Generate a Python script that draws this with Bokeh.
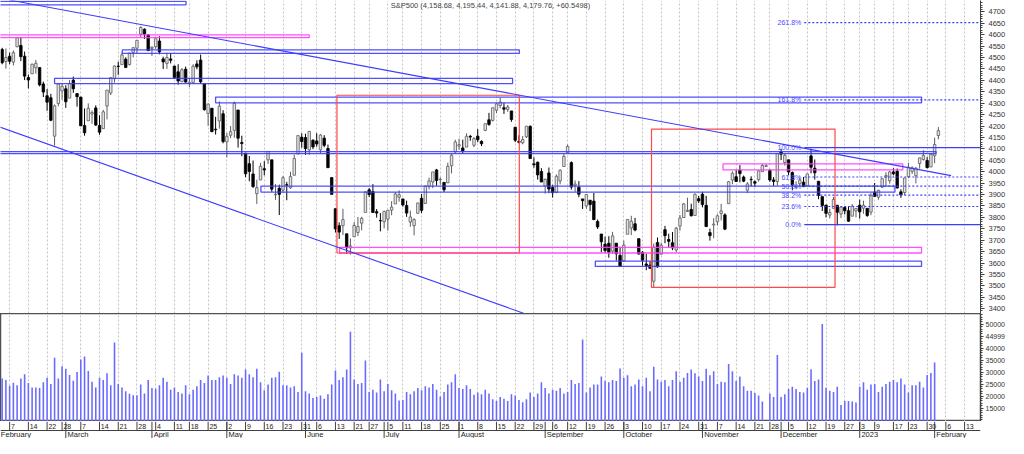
import numpy as np
import pandas as pd
from bokeh.plotting import figure
from bokeh.models import Range1d, FixedTicker, ColumnDataSource, Label, Span
from bokeh.layouts import column
from bokeh.embed import file_html
from bokeh.resources import INLINE
from bokeh.core.properties import value

FONT = "Liberation Sans"
TITLE = "S&P500 (4,158.68, 4,195.44, 4,141.88, 4,179.76, +60.5498)"

# ---------------- calendar ----------------
HOLIDAYS = ["2022-02-21", "2022-04-15", "2022-05-30", "2022-06-20", "2022-07-04",
            "2022-09-05", "2022-11-24", "2022-12-26", "2023-01-02", "2023-01-16"]
CAL_START, CAL_END = "2022-02-01", "2023-02-17"
INDEX_ZERO = "2022-02-07"     # first labelled week
FIRST_BAR = "2022-02-03"

# ---------------- daily OHLC (Feb 3 2022 .. Feb 2 2023) ----------------
open_ = [4535.41, 4482.79, 4505.75, 4480.02, 4547.00, 4553.24, 4506.27, 4412.61, 4429.28, 4455.75,
         4456.06, 4384.57, 4332.74, 4324.01, 4155.77, 4298.38, 4354.17, 4363.14, 4322.56, 4401.31,
         4342.12, 4327.01, 4202.66, 4223.10, 4252.55, 4279.50, 4202.75, 4188.82, 4288.14, 4345.11,
         4407.34, 4462.40, 4469.10, 4493.10, 4469.98, 4522.66, 4541.09, 4602.86, 4624.20, 4599.02,
         4540.32, 4547.97, 4572.45, 4494.17, 4474.65, 4494.15, 4462.64, 4437.59, 4394.30, 4449.12,
         4385.63, 4390.63, 4472.26, 4489.17, 4385.83, 4255.34, 4278.14, 4186.52, 4222.58, 4253.75,
         4130.61, 4159.78, 4181.18, 4270.43, 4128.17, 4081.27, 4035.18, 3990.08, 3903.95, 3963.90,
         4013.02, 4052.00, 4051.98, 3899.00, 3927.76, 3919.42, 3942.94, 3929.59, 3984.60, 4077.43,
         4151.09, 4149.78, 4095.41, 4137.57, 4134.72, 4096.47, 4147.12, 4101.65, 3974.39, 3838.15,
         3763.52, 3764.05, 3728.18, 3665.90, 3715.31, 3733.89, 3774.71, 3821.75, 3920.76, 3913.00,
         3825.09, 3785.99, 3781.00, 3792.61, 3831.98, 3858.85, 3888.26, 3880.94, 3851.95, 3779.67,
         3763.99, 3818.00, 3883.79, 3860.73, 3935.32, 3955.47, 4007.92, 3965.72, 3953.22, 3951.43,
         4026.13, 4087.33, 4112.38, 4104.21, 4107.96, 4154.85, 4115.87, 4155.93, 4133.11, 4181.02,
         4227.40, 4225.02, 4269.37, 4290.46, 4280.40, 4273.13, 4266.31, 4195.08, 4133.09, 4126.55,
         4153.26, 4198.74, 4034.58, 4041.25, 4000.67, 3936.73, 3994.66, 3930.89, 3909.43, 3959.94,
         4022.94, 4083.67, 4040.00, 3940.73, 3932.41, 3880.95, 3849.91, 3875.23, 3871.40, 3782.36,
         3727.14, 3682.72, 3686.44, 3651.94, 3687.01, 3633.48, 3609.78, 3726.46, 3753.25, 3771.97,
         3706.74, 3647.51, 3595.86, 3590.83, 3520.37, 3690.41, 3638.65, 3746.26, 3703.11, 3689.05,
         3657.10, 3762.01, 3799.44, 3825.97, 3834.69, 3808.26, 3881.85, 3901.79, 3852.90, 3733.25,
         3766.98, 3780.71, 3817.02, 3810.94, 3859.89, 3963.72, 3977.97, 4006.41, 3976.82, 3919.26,
         3966.39, 3956.23, 3965.51, 4000.30, 4023.34, 4005.36, 3964.19, 3957.18, 4087.14, 4040.17,
         4052.02, 3996.63, 3933.28, 3947.79, 3954.17, 3939.29, 4069.38, 4015.54, 3958.37, 3890.91,
         3853.79, 3810.47, 3839.49, 3853.26, 3815.11, 3843.34, 3829.56, 3805.45, 3829.06, 3853.29,
         3840.36, 3839.74, 3823.37, 3910.82, 3888.57, 3932.35, 3976.77, 3960.60, 3999.28, 4002.25,
         3911.84, 3909.04, 3978.14, 4001.74, 3982.71, 4036.08, 4053.72, 4049.27, 4020.85, 4070.07,
         4158.68]
high = [4542.88, 4539.66, 4521.86, 4531.32, 4590.03, 4588.92, 4526.33, 4426.22, 4472.77, 4489.55,
        4456.06, 4394.60, 4362.12, 4341.51, 4294.73, 4385.34, 4388.84, 4378.45, 4401.48, 4416.78,
        4342.12, 4327.01, 4276.94, 4299.40, 4268.28, 4291.01, 4247.57, 4271.05, 4357.86, 4412.67,
        4465.40, 4481.75, 4522.00, 4501.07, 4520.58, 4546.03, 4575.65, 4637.30, 4627.77, 4603.07,
        4548.70, 4583.50, 4593.45, 4503.94, 4521.16, 4520.41, 4464.35, 4471.00, 4453.92, 4460.46,
        4410.31, 4471.03, 4488.29, 4512.94, 4385.83, 4299.02, 4278.14, 4240.71, 4308.45, 4269.68,
        4169.81, 4200.10, 4307.66, 4270.43, 4157.69, 4081.27, 4068.82, 4049.09, 3964.80, 4038.88,
        4046.46, 4090.72, 4051.98, 3945.96, 3943.42, 3981.88, 3955.68, 3999.33, 4075.14, 4158.49,
        4168.34, 4166.54, 4177.51, 4142.67, 4168.78, 4164.86, 4160.14, 4119.10, 3974.39, 3838.15,
        3778.18, 3837.56, 3728.18, 3707.71, 3779.65, 3801.79, 3802.58, 3913.65, 3927.72, 3945.86,
        3836.50, 3818.99, 3829.82, 3832.19, 3870.91, 3910.63, 3918.50, 3880.94, 3873.41, 3829.44,
        3796.41, 3863.62, 3902.44, 3939.81, 3974.13, 3999.29, 4012.44, 3975.30, 3953.22, 4039.56,
        4078.95, 4140.15, 4144.95, 4140.47, 4167.66, 4161.29, 4151.58, 4186.62, 4137.30, 4211.03,
        4257.91, 4280.47, 4301.79, 4325.28, 4302.18, 4292.53, 4266.31, 4195.08, 4159.77, 4156.56,
        4200.54, 4203.04, 4062.99, 4044.98, 4015.37, 3970.23, 4018.43, 3942.55, 3987.89, 4010.50,
        4076.81, 4119.28, 4045.00, 3961.94, 3959.14, 3880.95, 3900.45, 3876.01, 3907.07, 3790.68,
        3727.14, 3715.67, 3717.53, 3736.74, 3687.01, 3671.44, 3698.35, 3791.92, 3806.91, 3797.93,
        3706.74, 3652.17, 3640.66, 3608.34, 3685.41, 3712.00, 3689.73, 3762.79, 3728.58, 3736.00,
        3757.89, 3810.74, 3862.85, 3886.15, 3859.95, 3905.42, 3893.73, 3911.79, 3894.44, 3750.59,
        3796.34, 3813.95, 3859.40, 3818.20, 3958.33, 4001.48, 4008.97, 4028.84, 3983.09, 3954.33,
        3979.89, 3962.00, 4005.88, 4033.78, 4034.02, 4012.27, 3976.77, 4080.11, 4100.51, 4080.48,
        4052.45, 4001.51, 3957.57, 3974.19, 3977.02, 3990.71, 4100.96, 4053.76, 3958.37, 3890.91,
        3854.86, 3838.24, 3889.82, 3853.26, 3845.80, 3846.65, 3848.32, 3858.19, 3839.85, 3878.46,
        3873.16, 3839.74, 3906.19, 3950.57, 3919.83, 3970.07, 3997.76, 4003.95, 4015.39, 4014.16,
        3922.94, 3972.96, 4039.31, 4023.92, 4019.55, 4061.57, 4094.21, 4063.85, 4077.16, 4148.95,
        4195.44]
low = [4470.39, 4451.50, 4471.47, 4465.40, 4547.00, 4484.31, 4401.41, 4364.84, 4429.28, 4429.68,
       4373.81, 4327.22, 4267.11, 4221.51, 4114.65, 4286.83, 4315.12, 4279.54, 4322.56, 4345.56,
       4284.98, 4199.85, 4157.87, 4223.10, 4209.80, 4200.49, 4161.72, 4187.90, 4229.34, 4335.65,
       4390.57, 4424.30, 4469.10, 4455.81, 4465.17, 4501.07, 4517.69, 4589.66, 4581.32, 4530.41,
       4507.57, 4539.21, 4514.17, 4450.04, 4450.30, 4474.60, 4408.38, 4381.34, 4392.70, 4390.77,
       4370.30, 4390.63, 4448.76, 4384.47, 4267.62, 4200.82, 4175.04, 4162.90, 4188.63, 4124.28,
       4062.51, 4147.08, 4148.91, 4106.01, 4067.91, 3975.48, 3958.17, 3928.82, 3858.87, 3963.90,
       3983.99, 4033.93, 3911.91, 3876.58, 3810.32, 3909.04, 3875.13, 3925.03, 3984.60, 4077.43,
       4104.88, 4073.85, 4074.37, 4098.67, 4109.18, 4080.19, 4107.20, 4017.17, 3900.16, 3734.30,
       3705.68, 3722.30, 3639.77, 3636.87, 3715.31, 3717.69, 3743.52, 3821.75, 3889.66, 3820.14,
       3799.02, 3738.67, 3752.10, 3742.06, 3809.37, 3858.85, 3869.34, 3847.22, 3802.36, 3759.07,
       3721.56, 3817.18, 3818.63, 3860.73, 3922.03, 3927.64, 3938.85, 3943.46, 3910.74, 3951.43,
       3992.97, 4079.22, 4096.02, 4079.81, 4107.96, 4135.42, 4107.31, 4128.97, 4112.09, 4177.26,
       4201.41, 4219.78, 4256.90, 4277.77, 4253.08, 4261.98, 4218.70, 4129.86, 4124.03, 4119.97,
       4147.59, 4057.66, 4017.42, 3965.21, 3954.53, 3903.65, 3906.21, 3886.75, 3906.03, 3944.81,
       4022.94, 4083.67, 3921.73, 3912.56, 3888.28, 3837.08, 3838.50, 3827.54, 3789.49, 3749.14,
       3647.47, 3644.76, 3623.29, 3640.61, 3610.40, 3584.13, 3604.93, 3726.46, 3722.66, 3739.22,
       3636.79, 3588.10, 3568.45, 3573.86, 3491.58, 3579.68, 3638.65, 3686.53, 3666.51, 3656.44,
       3647.42, 3741.65, 3799.44, 3824.07, 3803.79, 3808.26, 3863.18, 3843.80, 3758.68, 3698.15,
       3708.84, 3764.70, 3786.28, 3744.22, 3859.89, 3944.82, 3956.40, 3953.17, 3954.34, 3906.54,
       3935.98, 3933.34, 3956.88, 3998.66, 4020.76, 3955.77, 3937.65, 3938.58, 4050.87, 4026.63,
       3984.49, 3918.39, 3922.68, 3935.83, 3933.04, 3935.30, 3993.03, 3965.65, 3879.45, 3827.91,
       3800.04, 3795.62, 3839.49, 3764.49, 3797.01, 3813.22, 3780.78, 3805.45, 3800.34, 3794.33,
       3815.77, 3802.42, 3809.56, 3890.42, 3877.29, 3928.54, 3937.56, 3947.67, 3984.57, 3926.59,
       3885.54, 3897.86, 3971.64, 3989.79, 3949.06, 4013.29, 4048.70, 4015.55, 4020.44, 4037.20,
       4141.88]
close = [4477.44, 4500.53, 4483.87, 4521.54, 4587.18, 4504.08, 4418.64, 4401.67, 4471.07, 4475.01,
         4380.26, 4348.87, 4304.76, 4225.50, 4288.70, 4384.65, 4373.94, 4306.26, 4386.54, 4363.49,
         4328.87, 4201.09, 4170.70, 4277.88, 4259.52, 4204.31, 4173.11, 4262.45, 4357.86, 4411.67,
         4463.12, 4461.18, 4511.61, 4456.24, 4520.16, 4543.06, 4575.52, 4631.60, 4602.45, 4530.41,
         4545.86, 4582.64, 4525.12, 4481.15, 4500.21, 4488.28, 4412.53, 4397.45, 4446.59, 4392.59,
         4391.69, 4462.21, 4459.45, 4393.66, 4271.78, 4296.12, 4175.20, 4183.96, 4287.50, 4131.93,
         4155.38, 4175.48, 4300.17, 4146.87, 4123.34, 3991.24, 4001.05, 3935.18, 3930.08, 4023.89,
         4008.01, 4088.85, 3923.68, 3900.79, 3901.36, 3973.75, 3941.48, 3978.73, 4057.84, 4158.24,
         4132.15, 4101.23, 4176.82, 4108.54, 4121.43, 4160.68, 4115.77, 4017.82, 3900.86, 3749.63,
         3735.48, 3789.99, 3666.77, 3674.84, 3764.79, 3759.89, 3795.73, 3911.74, 3900.11, 3821.55,
         3818.83, 3785.38, 3825.33, 3831.39, 3845.08, 3902.62, 3899.38, 3854.43, 3818.80, 3801.78,
         3790.38, 3863.16, 3830.85, 3936.69, 3959.90, 3998.95, 3961.63, 3966.84, 3921.05, 4023.61,
         4072.43, 4130.29, 4118.63, 4091.19, 4155.17, 4151.94, 4145.19, 4140.06, 4122.47, 4210.24,
         4207.27, 4280.15, 4297.14, 4305.20, 4274.04, 4283.74, 4228.48, 4137.99, 4128.73, 4140.77,
         4199.12, 4057.66, 4030.61, 3986.16, 3955.00, 3966.85, 3924.26, 3908.19, 3979.87, 4006.18,
         4067.36, 4110.41, 3932.69, 3946.01, 3901.35, 3873.33, 3899.89, 3855.93, 3789.93, 3757.99,
         3693.23, 3655.04, 3647.29, 3719.04, 3640.47, 3585.62, 3678.43, 3790.93, 3783.28, 3744.52,
         3639.66, 3612.39, 3588.84, 3577.03, 3669.91, 3583.07, 3677.95, 3719.98, 3695.16, 3665.78,
         3752.75, 3797.34, 3859.11, 3830.60, 3807.30, 3901.06, 3871.98, 3856.10, 3759.69, 3719.89,
         3770.55, 3806.80, 3828.11, 3748.57, 3956.37, 3992.93, 3957.25, 3991.73, 3958.79, 3946.56,
         3965.34, 3949.94, 4003.58, 4027.26, 4026.12, 3963.94, 3957.63, 4080.11, 4076.57, 4071.70,
         3998.84, 3941.26, 3933.92, 3963.51, 3934.38, 3990.56, 4019.65, 3995.32, 3895.75, 3852.36,
         3817.66, 3821.62, 3878.44, 3822.39, 3844.82, 3829.25, 3783.22, 3849.28, 3839.50, 3824.14,
         3852.97, 3808.10, 3895.08, 3892.09, 3919.25, 3969.61, 3983.17, 3999.09, 3990.97, 3928.86,
         3898.85, 3972.61, 4019.81, 4016.95, 4016.22, 4060.43, 4070.56, 4017.77, 4076.60, 4119.21,
         4179.76]
volume = [27370, 26690, 24270, 25600, 24550, 27370, 29100, 25480, 23600, 23600, 23340,
          25750, 27620, 25080, 35970, 27370, 32460, 31400, 28830, 26420, 30040, 35290,
          36500, 30440, 26020, 23600, 27620, 26690, 29520, 24550, 42420, 25080, 23600,
          21980, 20910, 20370, 20370, 24820, 21050, 26690, 23340, 23060, 24550, 27620,
          26020, 22660, 23600, 21720, 21050, 24550, 20780, 22660, 24140, 26690, 25480,
          28590, 26690, 26690, 27900, 28590, 27620, 25080, 29100, 28590, 27620, 31130,
          29100, 27900, 31400, 25750, 22390, 24820, 27620, 27900, 30170, 24550, 24550,
          23600, 24140, 21720, 38110, 21980, 21050, 19160, 19560, 20240, 18900, 20780, 24820,
          30720, 26690, 27900, 31130, 46850, 26960, 25080, 25480, 34880, 21720, 22660,
          21450, 26960, 21980, 25080, 22390, 21050, 18100, 18360, 21720, 20780, 21980,
          23340, 22390, 24140, 23600, 25080, 22660, 19840, 21720, 24820, 25750, 29100,
          23340, 22930, 24550, 22930, 20520, 21450, 20780, 22660, 21050, 18630, 17950,
          19560, 18900, 17950, 20780, 20240, 18360, 17420, 18630, 21450, 19560, 21050,
          25750, 23340, 21050, 22660, 22260, 23340, 21050, 21720, 26690, 25080, 25480,
          43620, 21450, 23600, 24820, 24820, 28180, 26290, 25750, 26690, 26290, 31530,
          27620, 28710, 24140, 24820, 26960, 24140, 27620, 22000, 32300, 26960,
          26020, 26690, 24140, 26690, 30320, 26020, 27620, 29640, 31130, 29500, 28180,
          26290, 31400, 28710, 30320, 25080, 26020, 25750, 33410, 30320, 26290, 28180,
          24140, 22260, 22260, 21320, 20240, 17700, 9000,
          21050, 19560, 37180, 19560, 20770, 22940, 23870, 22940, 21720, 21450, 23480,
          31250, 26290, 26960, 50080, 23480, 22260, 21720, 23870, 16210, 17950, 17950,
          17680, 17280, 23870, 25750, 22660, 24820, 25080, 21720, 23870, 25080, 26020,
          26690, 25750, 27370, 24820, 21450, 24550, 24550, 26020, 23600, 28830, 29640, 34070,
          0]

# ---------------- axes ----------------
price_ticks = list(range(3400, 4701, 50))
volume_ticks = list(range(15000, 50001, 5000))
volume_label_overrides = {45000: "44999"}
volume_unit = "[x100000]"

# ---------------- drawings ----------------
trend_hi = [(0.0, 4752.0), (251.4, 3983.0)]
trend_lo = [(0.0, 4180.0), (135.0, 3393.0)]

ch_left = [-3.0, -3.0, 30.1, 12.0, 55.0, -3.0, 67.1, 190.5, 88.1, 156.4]
ch_right = [47.1, 80.0, 136.1, 134.3, 243.5, 247.4, 236.4, 238.5, 243.5, 243.5]
ch_top = [4746, 4599, 4534, 4409, 4327, 4088, 3937, 4034, 3669, 3608]
ch_bottom = [4731, 4587, 4518, 4386, 4302, 4079, 3911, 4008, 3644, 3585]
ch_kind = ["b", "m", "b", "b", "b", "b", "b", "m", "m", "b"]

box_left = [87.4, 171.4]
box_right = [136.1, 220.4]
box_top = [4335, 4187]
box_bottom = [3644, 3493]

fib_low, fib_high = 3768.0, 4106.0
fib_ratios = [0.0, 0.236, 0.382, 0.5, 0.618, 1.0, 1.618, 2.618]
fib_names = ["0.0%", "23.6%", "38.2%", "50.0%", "61.8%", "100.0%", "161.8%", "261.8%"]
fib_start = 212.2

BLUE = "#3c3cff"
MAGENTA = "#ff3cff"
RED = "#ff4848"
GRID = "#c4c4c4"
AXIS = "#404040"
TXT = "#333333"

# ---------------- derived positions ----------------
cal = pd.bdate_range(CAL_START, CAL_END)
cal = cal[~cal.isin(pd.to_datetime(HOLIDAYS))]
pos0 = cal.get_loc(pd.Timestamp(INDEX_ZERO))
cal_idx = np.arange(len(cal)) - pos0
first = cal.get_loc(pd.Timestamp(FIRST_BAR))
n = len(close)
xs = cal_idx[first:first + n].astype(float)

week_idx, week_lab = [], []
prev = None
for d, i in zip(cal, cal_idx):
    key = tuple(d.isocalendar())[:2]
    if key != prev:
        if i >= 0:
            week_idx.append(int(i))
            week_lab.append(str(d.day))
        prev = key
month_idx, month_lab = [], []
prevm = None
for d, i in zip(cal, cal_idx):
    if d.month != prevm:
        month_idx.append(int(i))
        month_lab.append(str(d.year) if d.month == 1 else d.strftime("%B"))
        prevm = d.month

X0, X1 = -2.44, 259.25
XR = Range1d(X0, X1)
FRAME_W = 980
RB = 28

o = np.array(open_); h = np.array(high); l = np.array(low); c = np.array(close)
up = c >= o
src = ColumnDataSource(dict(
    x=xs, o=o, h=h, l=l, c=c,
    top=np.maximum(o, c), bot=np.minimum(o, c),
    fill=np.where(up, "#e4e4e4", "#000000"),
    line=np.where(up, "#5c5c5c", "#000000"),
))

# ---------------- price panel ----------------
p = figure(x_range=XR, y_range=Range1d(3379, 4750), frame_width=FRAME_W, frame_height=313,
           output_backend="svg", toolbar_location=None, x_axis_location=None,
           y_axis_location="right", min_border_left=0, min_border_right=RB,
           min_border_top=0, min_border_bottom=0)
p.outline_line_color = None
p.background_fill_color = "white"
p.border_fill_color = "white"
p.xgrid.ticker = FixedTicker(ticks=week_idx)
p.xgrid.grid_line_color = GRID
p.xgrid.grid_line_dash = "2 2"
p.ygrid.grid_line_color = None
ya = p.yaxis[0]
ya.ticker = FixedTicker(ticks=price_ticks, minor_ticks=list(range(3390, 4750, 10)))
ya.axis_line_color = AXIS
ya.major_tick_line_color = AXIS
ya.minor_tick_line_color = AXIS
ya.major_tick_in = 0
ya.major_tick_out = 4
ya.minor_tick_in = 0
ya.minor_tick_out = 2
ya.major_label_standoff = 4
ya.major_label_text_font = FONT
ya.major_label_text_font_size = "7.5px"
ya.major_label_text_color = TXT

p.segment(x0="x", y0="h", x1="x", y1="l", line_color="line", line_width=1, source=src)
p.vbar(x="x", width=0.66, top="top", bottom="bot", fill_color="fill", line_color="line",
       line_width=0.8, source=src)

# channels
for kind in ("b", "m"):
    sel = [k == kind for k in ch_kind]
    p.quad(left=[v for v, s in zip(ch_left, sel) if s], right=[v for v, s in zip(ch_right, sel) if s],
           top=[v for v, s in zip(ch_top, sel) if s], bottom=[v for v, s in zip(ch_bottom, sel) if s],
           fill_color=None, line_color=BLUE if kind == "b" else MAGENTA, line_width=1.3, line_alpha=0.9)
p.quad(left=box_left, right=box_right, top=box_top, bottom=box_bottom,
       fill_color=None, line_color=RED, line_width=1.2)

# trendlines
(ax_, ay_), (bx_, by_) = trend_hi
p.line([ax_, bx_], [ay_, by_], line_color=BLUE, line_width=1.1)
(ax_, ay_), (bx_, by_) = trend_lo
slope = (by_ - ay_) / (bx_ - ax_)
p.line([X0 - 1, bx_ + 5], [ay_ + slope * (X0 - 1 - ax_), by_ + slope * 5], line_color=BLUE, line_width=1.1)

# fibonacci
levels = [fib_low + r * (fib_high - fib_low) for r in fib_ratios]
solid = [lv for lv, r in zip(levels, fib_ratios) if r in (0.0, 1.0)]
dotted = [lv for lv, r in zip(levels, fib_ratios) if r not in (0.0, 1.0)]
p.segment(x0=[fib_start] * len(solid), y0=solid, x1=[X1 + 2] * len(solid), y1=solid,
          line_color=BLUE, line_width=1.2)
p.segment(x0=[fib_start] * len(dotted), y0=dotted, x1=[X1 + 2] * len(dotted), y1=dotted,
          line_color=BLUE, line_width=1.2, line_dash="2 2")
p.text(x=[fib_start - 0.8] * len(levels), y=levels, text=fib_names, text_align="right",
       text_baseline="middle", text_font=value(FONT), text_font_size="7px", text_color="#4a4aff")

p.text(x=[(X0 + X1) / 2], y=[4729], text=[TITLE], text_align="center", text_baseline="middle",
       text_font=value(FONT), text_font_size="7.5px", text_color="#444444")

# ---------------- volume panel ----------------
v = figure(x_range=XR, y_range=Range1d(9355, 54516), frame_width=FRAME_W, frame_height=108,
           output_backend="svg", toolbar_location=None, x_axis_location=None,
           y_axis_location="right", min_border_left=0, min_border_right=RB,
           min_border_top=0, min_border_bottom=0)
v.outline_line_color = "#505050"
v.outline_line_width = 1.5
v.background_fill_color = "white"
v.border_fill_color = "white"
v.xgrid.ticker = FixedTicker(ticks=week_idx)
v.xgrid.grid_line_color = GRID
v.xgrid.grid_line_dash = "2 2"
v.ygrid.grid_line_color = None
vy = v.yaxis[0]
vy.ticker = FixedTicker(ticks=volume_ticks, minor_ticks=list(range(10000, 54001, 1000)))
vy.major_label_overrides = volume_label_overrides
vy.axis_line_color = AXIS
vy.major_tick_line_color = AXIS
vy.minor_tick_line_color = AXIS
vy.major_tick_in = 0
vy.major_tick_out = 3
vy.minor_tick_in = 0
vy.minor_tick_out = 2
vy.major_label_standoff = 2
vy.major_label_text_font = FONT
vy.major_label_text_font_size = "7px"
vy.major_label_text_color = TXT
vsrc = ColumnDataSource(dict(x=xs, vol=np.array(volume, dtype=float)))
v.vbar(x="x", width=0.42, top="vol", bottom=0, fill_color="#6a6aff", line_color=None, source=vsrc)
v.add_layout(Label(x=X1, y=10600, x_offset=RB - 2, text=volume_unit, text_font=FONT,
                   text_font_size="5.6px", text_baseline="middle", text_align="right",
                   text_color=TXT))

# ---------------- date strip ----------------
s = figure(x_range=XR, y_range=Range1d(0, 17), frame_width=FRAME_W, frame_height=17,
           output_backend="svg", toolbar_location=None, x_axis_location=None,
           y_axis_location=None, min_border_left=0, min_border_right=RB,
           min_border_top=0, min_border_bottom=0)
s.outline_line_color = None
s.xgrid.grid_line_color = None
s.ygrid.grid_line_color = None
s.add_layout(Span(location=8, dimension="width", line_color=AXIS, line_width=1))
s.segment(x0=week_idx, y0=[8] * len(week_idx), x1=week_idx, y1=[17] * len(week_idx),
          line_color=AXIS, line_width=1)
s.segment(x0=month_idx, y0=[0] * len(month_idx), x1=month_idx, y1=[17] * len(month_idx),
          line_color=AXIS, line_width=1)
s.text(x=[w + 0.35 for w in week_idx], y=[12.5] * len(week_idx), text=week_lab,
       text_align="left", text_baseline="middle", text_font=value(FONT),
       text_font_size="7px", text_color="#222222")
s.text(x=[max(m + 0.45, X0 + 0.1) for m in month_idx], y=[3.8] * len(month_idx), text=month_lab,
       text_align="left", text_baseline="middle", text_font=value(FONT),
       text_font_size="7.5px", text_color="#222222")

layout = column(p, v, s)
open("out.html", "w").write(file_html(layout, INLINE))
